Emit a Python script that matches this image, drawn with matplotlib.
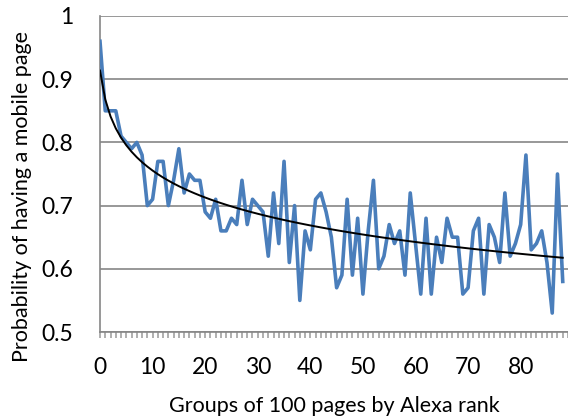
import numpy as np
import matplotlib
matplotlib.use('Agg')
import matplotlib.pyplot as plt
from matplotlib.ticker import MultipleLocator

plt.rcParams['font.family'] = ['Lato', 'DejaVu Sans']

# probability per group of 100 pages (Alexa rank order)
prob = [0.96, 0.85, 0.85, 0.85, 0.81, 0.80, 0.79, 0.80, 0.78, 0.70,
        0.71, 0.77, 0.77, 0.70, 0.74, 0.79, 0.72, 0.75, 0.74, 0.74,
        0.69, 0.68, 0.71, 0.66, 0.66, 0.68, 0.67, 0.74, 0.67, 0.71,
        0.70, 0.69, 0.62, 0.72, 0.64, 0.77, 0.61, 0.70, 0.55, 0.66,
        0.63, 0.71, 0.72, 0.69, 0.65, 0.57, 0.59, 0.71, 0.59, 0.68,
        0.56, 0.66, 0.74, 0.60, 0.62, 0.67, 0.64, 0.66, 0.59, 0.72,
        0.64, 0.56, 0.68, 0.56, 0.65, 0.61, 0.68, 0.65, 0.65, 0.56,
        0.57, 0.66, 0.68, 0.56, 0.67, 0.65, 0.61, 0.72, 0.62, 0.64,
        0.67, 0.78, 0.63, 0.64, 0.66, 0.61, 0.53, 0.75, 0.58]
groups = np.arange(len(prob))

# logarithmic trendline like excel (x counted from 1)
b, a = np.polyfit(np.log(groups + 1), prob, 1)
trend = a + b * np.log(groups + 1)

fig = plt.figure(figsize=(5.68, 4.19), dpi=100)
ax = fig.add_axes([100/568, 1 - 332/419, 468/568, 316/419])

ax.plot(groups, prob, color='#4a7ebb', lw=2.6, zorder=3)
ax.plot(groups, trend, color='black', lw=1.4, zorder=4)

ax.set_xlim(0, 89)
ax.set_ylim(0.5, 1.0)
ax.set_yticks([0.5, 0.6, 0.7, 0.8, 0.9, 1.0])
ax.set_yticklabels(['0.5', '0.6', '0.7', '0.8', '0.9', '1'])
ax.xaxis.set_major_locator(MultipleLocator(10))
ax.xaxis.set_minor_locator(MultipleLocator(1))

ax.grid(axis='y', color='#868686', lw=1.2)
ax.set_axisbelow(True)
for s in ['top', 'right']:
    ax.spines[s].set_visible(False)
for s in ['left', 'bottom']:
    ax.spines[s].set_color('#868686')
    ax.spines[s].set_linewidth(1.2)

ax.tick_params(axis='y', length=0, pad=19, labelsize=16.5)
ax.tick_params(axis='x', which='both', direction='out', length=4.5, width=1.1,
               color='#9a9a9a', pad=13.5, labelsize=16.5)

fig.text(334.5/568, 1 - 412/419, 'Groups of 100 pages by Alexa rank',
         fontsize=15.5, ha='center', va='baseline')
fig.text(22/568, 1 - 196/419, 'Probability of having a mobile page',
         fontsize=15.5, rotation=90, ha='center', va='center')

fig.savefig('out.png', dpi=100)
